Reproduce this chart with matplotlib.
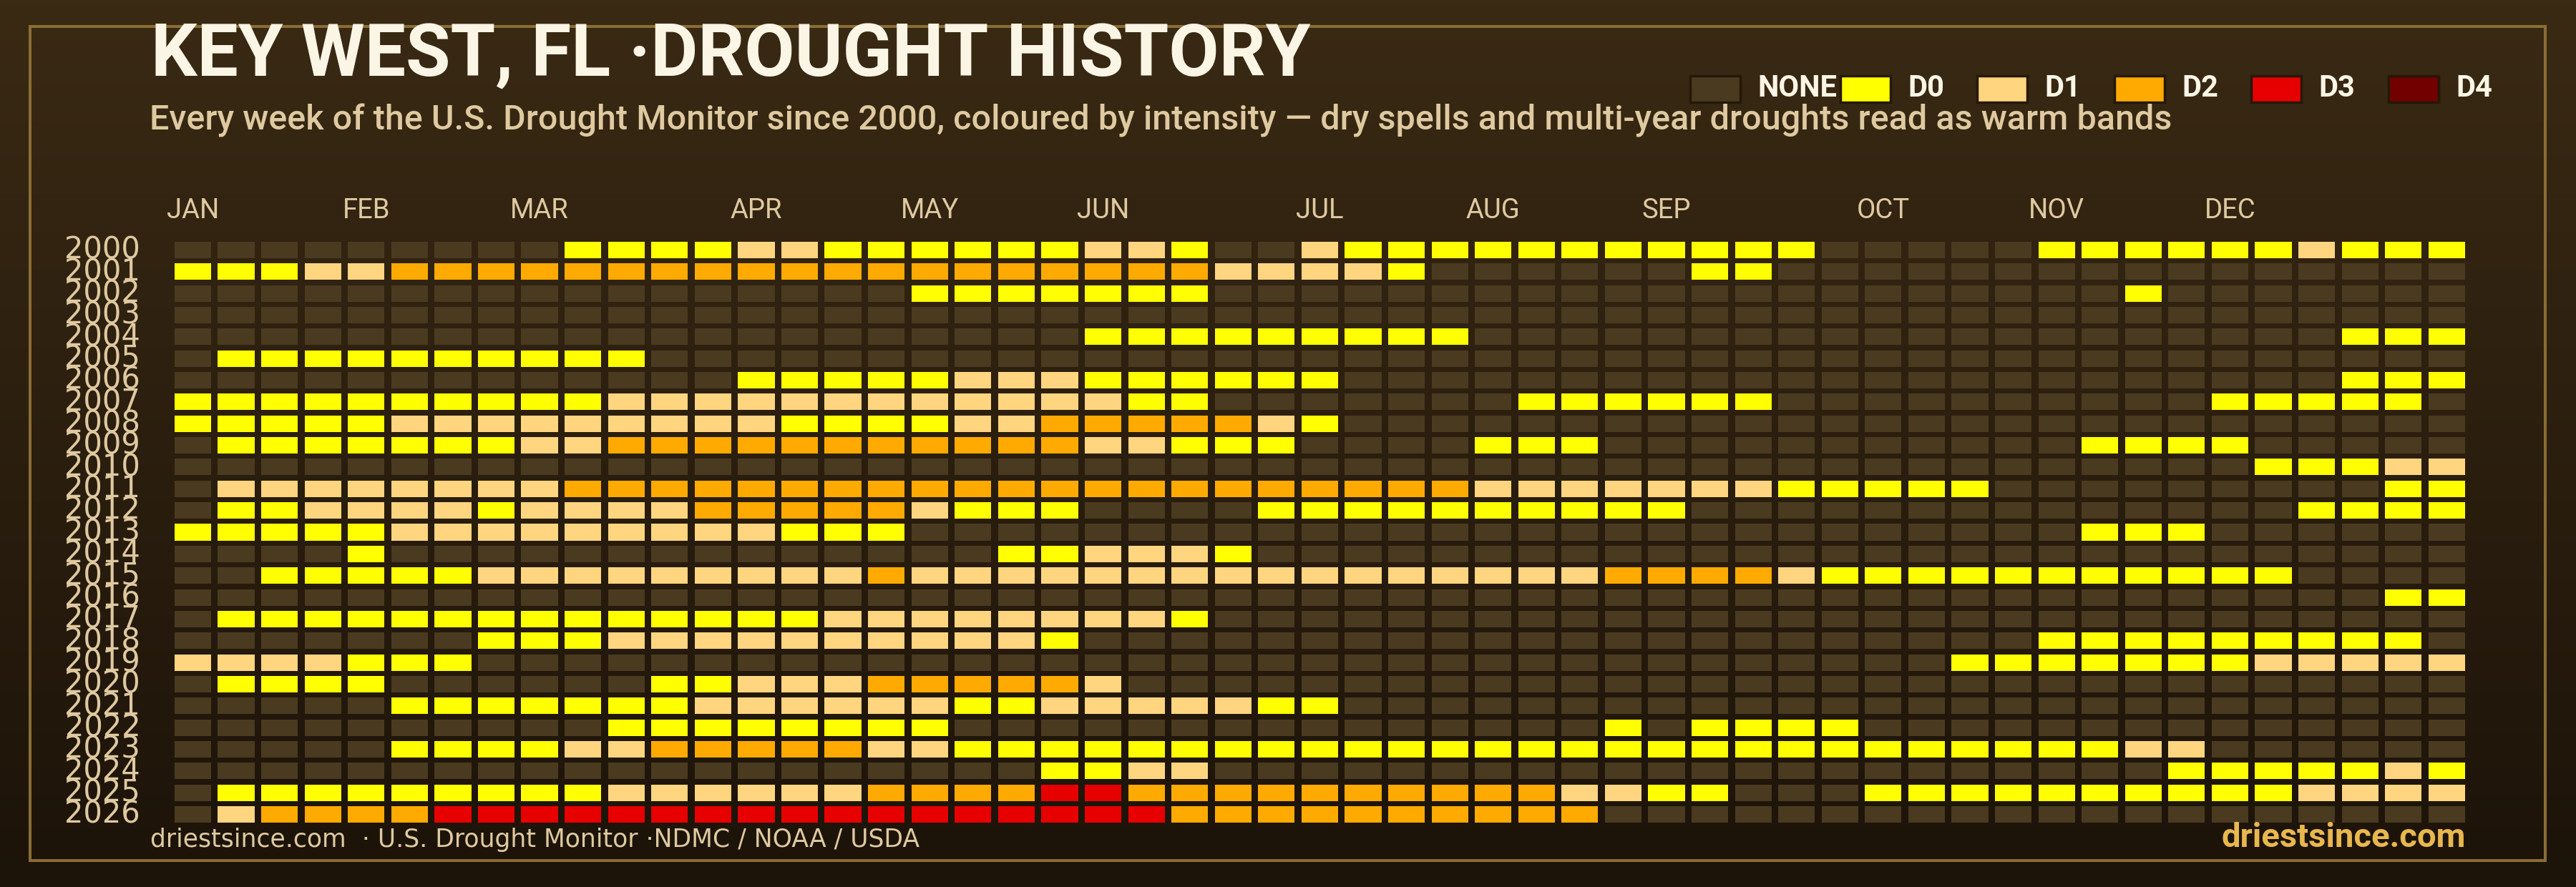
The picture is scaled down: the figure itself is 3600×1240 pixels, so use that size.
import numpy as np
import matplotlib
matplotlib.use("Agg")
import matplotlib.pyplot as plt
from matplotlib.colors import LinearSegmentedColormap
from matplotlib.patches import Rectangle
from matplotlib.transforms import ScaledTranslation

# one string per year, 53 weeks, spaces only split the runs
# 0 none, 1 D0, 2 D1, 3 D2, 4 D3, 5 D4
w2000 = "000000000 1111 22 111111 22 1 00 2 11111111111 00000 111111 2 111"
w2001 = "111 22 3333333333333333333 2222 1 000000 11 0000000000000000"
w2002 = "00000000000000000 1111111 000000000000000000000 1 0000000"
w2003 = "00000000000000000000000000000000000000000000000000000"
w2004 = "000000000000000000000 111111111 00000000000000000000 111"
w2005 = "0 1111111111 000000000000000000000000000000000000000000"
w2006 = "0000000000000 11111 222 111111 00000000000000000000000 111"
w2007 = "1111111111 222222222222 11 0000000 111111 0000000000 11111 0"
w2008 = "11111 222222222 1111 22 33333 2 1 00000000000000000000000000"
w2009 = "0 1111111 22 33333333333 22 111 0000 111 00000000000 1111 00000"
w2010 = "000000000000000000000000000000000000000000000000 111 22"
w2011 = "0 22222222 333333333333333333333 2222222 11111 000000000 11"
w2012 = "0 11 2222 1 2222 33333 2 111 0000 1111111111 00000000000000 1111"
w2013 = "11111 222222222 111 000000000000000000000000000 111 000000"
w2014 = "0000 1 00000000000000 11 222 1 0000000000000000000000000000"
w2015 = "00 11111 222222222 3 2222222222222222 3333 2 11111111111 0000"
w2016 = "000000000000000000000000000000000000000000000000000 11"
w2017 = "0 11111111111111 22222222 1 00000000000000000000000000000"
w2018 = "0000000 111 2222222222 1 0000000000000000000000 111111111 0"
w2019 = "2222 111 0000000000000000000000000000000000 1111111 22222"
w2020 = "0 1111 000000 11 222 33333 2 0000000000000000000000000000000"
w2021 = "00000 1111111 222222 11 22222 11 00000000000000000000000000"
w2022 = "0000000000 11111111 000000000000000 1 0 1111 00000000000000"
w2023 = "00000 1111 22 33333 22 111111111111111111111111111 22 000000"
w2024 = "00000000000000000000 11 22 0000000000000000000000 11111 2 1"
w2025 = "0 111111111 222222 3333 44 3333333333 22 11 000 1111111111 2222"
w2026 = "0 2 3333 44444444444444444 3333333333 00000000000000000000"

years = list(range(2000, 2027))
weeks = [w2000, w2001, w2002, w2003, w2004, w2005, w2006, w2007, w2008,
         w2009, w2010, w2011, w2012, w2013, w2014, w2015, w2016, w2017,
         w2018, w2019, w2020, w2021, w2022, w2023, w2024, w2025, w2026]

months = ["JAN", "FEB", "MAR", "APR", "MAY", "JUN", "JUL", "AUG", "SEP", "OCT", "NOV", "DEC"]
month_weeks = [0, 4, 8, 13, 17, 21, 26, 30, 34, 39, 43, 47]

level_names = ["NONE", "D0", "D1", "D2", "D3", "D4"]
level_cols = ["#4a3a1f", "#ffff00", "#ffd580", "#ffaa00", "#e60000", "#730000"]

W = 3600
H = 1240
cream = "#fbf5e6"
tan = "#dfc9a0"
gold = "#8a6d35"
head_font = "Roboto"


def fx(x):
    return x / W


def fy(y):
    return 1 - y / H


fig = plt.figure(figsize=(W / 100, H / 100), dpi=100)

# background fade
bg = fig.add_axes([0, 0, 1, 1], zorder=0)
fade = LinearSegmentedColormap.from_list("fade", ["#3a2a14", "#1c1309"])
bg.imshow(np.linspace(0, 1, 256).reshape(-1, 1), cmap=fade, aspect="auto", extent=[0, 1, 0, 1])
bg.axis("off")

# frame
fig.add_artist(Rectangle((fx(42), fy(1203)), (3557 - 42) / W, (1203 - 37) / H, transform=fig.transFigure,
                         fill=False, edgecolor=gold, linewidth=2.9, zorder=1))

# heatmap
ax = fig.add_axes([fx(239.2), fy(1153.7), (3449.6 - 239.2) / W, (1153.7 - 334.3) / H], zorder=2)
ax.patch.set_alpha(0)
grid = np.array([[int(c) for c in row.replace(" ", "")] for row in weeks])
for lev in range(len(level_cols)):
    yy, xx = np.nonzero(grid == lev)
    ax.bar(xx, 0.76, bottom=np.array(years)[yy] - 0.38, width=0.845, color=level_cols[lev], linewidth=0)
ax.set_xlim(-0.5, 52.5)
ax.set_ylim(2026.5, 1999.5)
for s in ax.spines.values():
    s.set_visible(False)
ax.xaxis.tick_top()
ax.set_xticks(month_weeks)
ax.set_xticklabels(months, fontsize=27.5, color=tan, family=head_font)
ax.set_yticks(years)
ax.set_yticklabels(years, fontsize=30, color=tan, family="DejaVu Sans")
ax.tick_params(axis="both", length=0)
ax.tick_params(axis="x", pad=15)
ax.tick_params(axis="y", pad=31)
for lab in ax.get_yticklabels():
    lab.set_transform(lab.get_transform() + ScaledTranslation(0, 3 / 72, fig.dpi_scale_trans))

# title block
fig.text(fx(211), fy(106), "KEY WEST, FL ·DROUGHT HISTORY", fontsize=73.2, fontweight="bold",
         color=cream, family=head_font, va="baseline", zorder=3)
fig.text(fx(209), fy(181), "Every week of the U.S. Drought Monitor since 2000, coloured by intensity — dry spells and multi-year droughts read as warm bands",
         fontsize=34.9, color=tan, family=head_font, fontweight="medium", va="baseline", zorder=3)

# legend
swatch_x = [2360, 2570, 2761, 2953, 3144, 3336]
for i in range(len(level_names)):
    fig.add_artist(Rectangle((fx(swatch_x[i] + 2), fy(143)), 70 / W, 37 / H, transform=fig.transFigure,
                             facecolor=level_cols[i], edgecolor="#241808", linewidth=2.5, zorder=3))
    fig.text(fx(swatch_x[i] + 96), fy(135), level_names[i], fontsize=30, fontweight="bold",
             color=cream, family=head_font, va="baseline", zorder=3)

# footer
fig.text(fx(210), fy(1184), "driestsince.com  · U.S. Drought Monitor ·NDMC / NOAA / USDA", fontsize=24.9,
         color=tan, family="DejaVu Sans", va="baseline", zorder=3)
fig.text(fx(3446), fy(1184), "driestsince.com", fontsize=34, fontweight="bold", color="#e8b84f",
         family=head_font, ha="right", va="baseline", zorder=3)

fig.savefig("out.png", dpi=100)
